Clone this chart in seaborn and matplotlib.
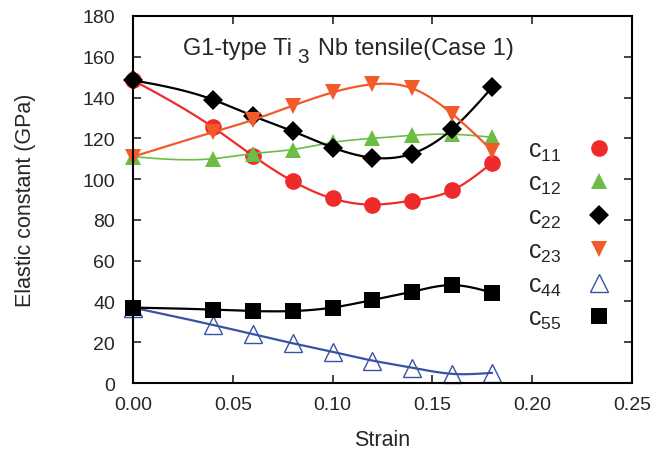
import numpy as np
import pandas as pd
import matplotlib
matplotlib.use('Agg')
import matplotlib.pyplot as plt
import seaborn as sns

# DATA
strain = [0.00, 0.04, 0.06, 0.08, 0.10, 0.12, 0.14, 0.16, 0.18]
c11 = [148.5, 125.5, 111.5, 99.0, 90.5, 87.5, 89.5, 94.5, 108.0]
c12 = [111.0, 110.0, 112.5, 114.5, 118.0, 120.0, 121.5, 122.0, 120.5]
c22 = [148.5, 139.0, 131.0, 123.5, 115.5, 110.5, 112.5, 124.5, 145.0]
c23 = [111.0, 123.0, 129.0, 136.0, 142.5, 146.5, 144.5, 132.0, 114.0]
c44 = [37.0, 28.5, 24.0, 19.5, 15.3, 11.0, 7.5, 4.5, 5.0]
c55 = [37.0, 36.0, 35.3, 35.3, 37.0, 40.7, 44.8, 48.0, 44.3]

labels = ['c11', 'c12', 'c22', 'c23', 'c44', 'c55']
series = [c11, c12, c22, c23, c44, c55]
colors = ['#ee2a2a', '#6bbd45', '#000000', '#f15a29', '#3953a4', '#000000']
markers = ['o', '^', 'D', 'v', '^', 's']
msizes = [12, 12, 10.5, 12, 13.5, 11.5]
lwidths = [1.6, 1.2, 1.6, 1.6, 1.6, 1.6]
filled = [True, True, True, True, False, True]


def natural_spline(x, y, xs):
    # natural cubic spline through the measured points, for the smooth curves
    x = np.asarray(x, float)
    y = np.asarray(y, float)
    n = len(x)
    h = np.diff(x)
    A = np.zeros((n, n))
    b = np.zeros(n)
    A[0, 0] = A[-1, -1] = 1
    for i in range(1, n - 1):
        A[i, i - 1] = h[i - 1]
        A[i, i] = 2 * (h[i - 1] + h[i])
        A[i, i + 1] = h[i]
        b[i] = 3 * ((y[i + 1] - y[i]) / h[i] - (y[i] - y[i - 1]) / h[i - 1])
    c = np.linalg.solve(A, b)
    bc = (y[1:] - y[:-1]) / h - h * (2 * c[:-1] + c[1:]) / 3
    d = (c[1:] - c[:-1]) / (3 * h)
    idx = np.clip(np.searchsorted(x, xs) - 1, 0, n - 2)
    dx = xs - x[idx]
    return y[idx] + bc[idx] * dx + c[idx] * dx ** 2 + d[idx] * dx ** 3


sns.set_style('ticks')
plt.rcParams['font.family'] = ['Liberation Sans', 'DejaVu Sans']
plt.rcParams['mathtext.fontset'] = 'custom'
plt.rcParams['mathtext.rm'] = 'Liberation Sans'
plt.rcParams['mathtext.it'] = 'Liberation Sans'

fig = plt.figure(figsize=(6.69, 4.52), dpi=100)
ax = fig.add_axes([0.1988, 0.1504, 0.7456, 0.812])

xs = np.linspace(0, 0.18, 300)
handles = []
for lab, ys, col, mk, ms, lw, fl in zip(labels, series, colors, markers, msizes, lwidths, filled):
    curve = pd.DataFrame({'Strain': xs, 'C': natural_spline(strain, ys, xs)})
    sns.lineplot(data=curve, x='Strain', y='C', color=col, linewidth=lw, ax=ax)
    h, = ax.plot(strain, ys, linestyle='none', marker=mk, markersize=ms,
                 color=col, markerfacecolor=col if fl else 'none',
                 markeredgewidth=0 if fl else 1.0, clip_on=False,
                 label=r'$\mathregular{c_{%s}}$' % lab[1:])
    handles.append(h)

ax.set_xlim(0, 0.25)
ax.set_ylim(0, 180)
ax.set_xticks(np.arange(0, 0.26, 0.05))
ax.set_yticks(np.arange(0, 181, 20))
ax.set_xticklabels(['%.2f' % v for v in np.arange(0, 0.26, 0.05)])
ax.tick_params(direction='in', top=True, right=True, length=6, width=1.2,
               labelsize=14)
ax.tick_params(axis='y', pad=13)
ax.tick_params(axis='x', pad=9)
for sp in ax.spines.values():
    sp.set_linewidth(1.5)
    sp.set_color('black')

ax.set_xlabel('Strain', fontsize=15.5, labelpad=12)
ax.set_ylabel('Elastic constant (GPa)', fontsize=15.5, labelpad=33)

# title inside the plot, with a big lowered "3"
t1 = ax.text(0.0251, 161.4, 'G1-type Ti', fontsize=17, ha='left', va='baseline')
t2 = ax.annotate('3', xy=(1, 0), xycoords=t1, xytext=(4, -5),
                 textcoords='offset points', fontsize=15, ha='left', va='bottom')
ax.annotate('Nb tensile(Case 1)', xy=(1, 0), xycoords=t2, xytext=(6, 5),
            textcoords='offset points', fontsize=17, ha='left', va='bottom')

leg = ax.legend(handles=handles, loc='center right', bbox_to_anchor=(1.005, 0.405),
                frameon=False, markerfirst=False, fontsize=18, labelspacing=0.34,
                handlelength=1.0, handletextpad=1.0)

plt.savefig('out.png', dpi=100)
